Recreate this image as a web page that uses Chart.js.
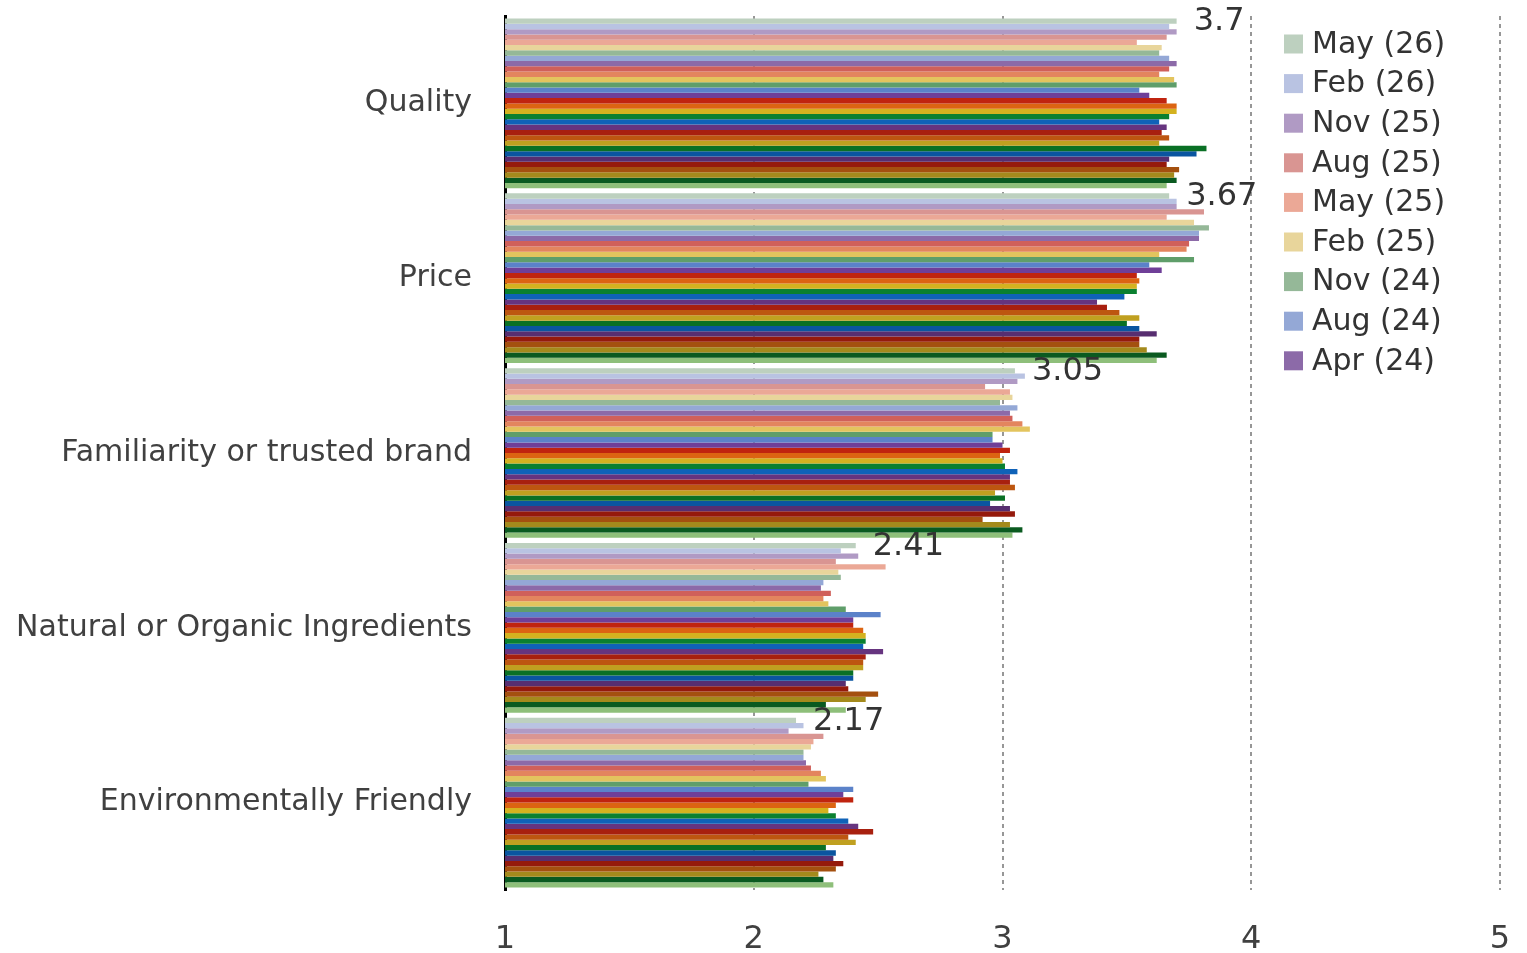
<!DOCTYPE html>
<html>
<head>
<meta charset="utf-8">
<script src="https://cdn.jsdelivr.net/npm/chart.js@4/dist/chart.umd.min.js"></script>
<style>
  html, body { margin: 0; padding: 0; background: #ffffff; }
  #wrap { width: 1527px; height: 953px; position: relative; }
</style>
</head>
<body>
<div id="wrap"><canvas id="chart" width="1527" height="953"></canvas></div>
<script>
// Purchase drivers, mean score (1-5), by survey wave (newest first)
const categories = [
  "Quality",
  "Price",
  "Familiarity or trusted brand",
  "Natural or Organic Ingredients",
  "Environmentally Friendly"
];

const waves = [
  "May (26)", "Feb (26)", "Nov (25)", "Aug (25)", "May (25)", "Feb (25)", "Nov (24)", "Aug (24)",
  "Apr (24)", "Jan (24)", "Oct (23)", "Jul (23)", "Apr (23)", "Jan (23)", "Oct (22)", "Jul (22)",
  "Apr (22)", "Jan (22)", "Oct (21)", "Jul (21)", "Apr (21)", "Jan (21)", "Oct (20)", "Jul (20)",
  "Apr (20)", "Jan (20)", "Oct (19)", "Jul (19)", "Apr (19)", "Jan (19)", "Oct (18)", "Jul (18)"
];

// One score per wave, in the same order as `waves`
const quality = [3.70, 3.67, 3.70, 3.66, 3.54, 3.64, 3.63, 3.67, 3.70, 3.67, 3.63, 3.69, 3.70, 3.55, 3.59, 3.66,
                 3.70, 3.70, 3.67, 3.63, 3.66, 3.64, 3.67, 3.63, 3.82, 3.78, 3.67, 3.66, 3.71, 3.69, 3.70, 3.66];
const price = [3.67, 3.70, 3.70, 3.81, 3.66, 3.77, 3.83, 3.79, 3.79, 3.75, 3.74, 3.63, 3.77, 3.59, 3.64, 3.54,
               3.55, 3.54, 3.54, 3.49, 3.38, 3.42, 3.47, 3.55, 3.50, 3.55, 3.62, 3.55, 3.55, 3.58, 3.66, 3.62];
const familiarity = [3.05, 3.09, 3.06, 2.93, 3.03, 3.04, 2.99, 3.06, 3.03, 3.04, 3.08, 3.11, 2.96, 2.96, 3.00, 3.03,
                     2.99, 3.00, 3.01, 3.06, 3.03, 3.03, 3.05, 2.97, 3.01, 2.95, 3.03, 3.05, 2.92, 3.03, 3.08, 3.04];
const natural = [2.41, 2.35, 2.42, 2.33, 2.53, 2.34, 2.35, 2.28, 2.27, 2.31, 2.28, 2.30, 2.37, 2.51, 2.40, 2.40,
                 2.44, 2.45, 2.45, 2.44, 2.52, 2.45, 2.44, 2.44, 2.40, 2.40, 2.37, 2.38, 2.50, 2.45, 2.29, 2.37];
const environment = [2.17, 2.20, 2.14, 2.28, 2.24, 2.23, 2.20, 2.20, 2.21, 2.23, 2.27, 2.29, 2.22, 2.40, 2.36, 2.40,
                     2.33, 2.30, 2.33, 2.38, 2.42, 2.48, 2.38, 2.41, 2.29, 2.33, 2.32, 2.36, 2.33, 2.26, 2.28, 2.32];

const xTickLabels = ["1", "2", "3", "4", "5"];

// Number of waves listed in the legend box
const legendCount = 9;

const waveColors = [
  "#bdd0bf", "#b9c3e2", "#b09ac4", "#d99592", "#eba896", "#e8d59b", "#95b898", "#94a8d6",
  "#8c6aa8", "#d0605a", "#e3855e", "#e3c45e", "#5f9e6a", "#5b82c9", "#6f3f98", "#c0240f",
  "#dc6412", "#d4b21f", "#0a8030", "#0f62b8", "#66347f", "#a8200f", "#bd5610", "#c0a020",
  "#0a7025", "#0a55a0", "#572e70", "#951a0c", "#a4500f", "#a48a1c", "#0a5a20", "#8ebf7a"
];

const byCategory = [quality, price, familiarity, natural, environment];

const datasets = waves.map((name, w) => ({
  label: name,
  data: byCategory.map(row => row[w]),
  backgroundColor: waveColors[w],
  borderWidth: 0,
  barPercentage: 1.0,
  categoryPercentage: 0.971
}));

const FONT = "'DejaVu Sans', Verdana, sans-serif";
const TEXT = "#404040";

// Value labels for the newest wave, placed just past each bar end
const newestLabels = {
  id: "newestLabels",
  afterDatasetsDraw(chart) {
    const ctx = chart.ctx;
    const meta = chart.getDatasetMeta(0);
    ctx.save();
    ctx.font = "32px " + FONT;
    ctx.fillStyle = "#333333";
    ctx.textAlign = "left";
    ctx.textBaseline = "middle";
    meta.data.forEach((bar, i) => {
      const v = chart.data.datasets[0].data[i];
      ctx.fillText(String(v), bar.x + 17, bar.y + 1);
    });
    ctx.restore();
  }
};

// Legend drawn inside the plot area on the right
const insideLegend = {
  id: "insideLegend",
  afterDraw(chart) {
    const ctx = chart.ctx;
    ctx.save();
    ctx.font = "30px " + FONT;
    ctx.textAlign = "left";
    ctx.textBaseline = "middle";
    for (let i = 0; i < legendCount; i++) {
      const cy = 44 + i * 39.6;
      ctx.fillStyle = chart.data.datasets[i].backgroundColor;
      ctx.fillRect(1284, cy - 9.5, 19, 19);
      ctx.fillStyle = "#333333";
      ctx.fillText(chart.data.datasets[i].label, 1312, cy + 1);
    }
    ctx.restore();
  }
};

new Chart(document.getElementById("chart"), {
  type: "bar",
  data: { labels: categories, datasets },
  options: {
    indexAxis: "y",
    responsive: false,
    animation: false,
    devicePixelRatio: 1,
    layout: { padding: { top: 16, right: 27, bottom: 0, left: 0 } },
    plugins: {
      legend: { display: false },
      tooltip: { enabled: false }
    },
    scales: {
      x: {
        type: "linear",
        min: 1,
        max: 5,
        z: 1,
        ticks: {
          stepSize: 1,
          padding: 30,
          color: TEXT,
          font: { family: FONT, size: 32 },
          callback: (value, index) => xTickLabels[index]
        },
        grid: {
          drawTicks: false,
          lineWidth: 2,
          color: c => (c.tick && c.tick.value === 1) ? "rgba(0,0,0,0)" : "rgba(125,125,125,0.8)"
        },
        border: { display: false, dash: [4, 4] },
        afterFit: s => { s.height = 63; s.paddingLeft = 0; s.paddingRight = 0; }
      },
      y: {
        type: "category",
        z: 1,
        ticks: {
          padding: 33,
          color: TEXT,
          font: { family: FONT, size: 30 }
        },
        grid: { display: false, drawTicks: false },
        border: { display: true, color: "#000000", width: 3 },
        afterFit: s => { s.width = 505; s.paddingTop = 0; s.paddingBottom = 0; }
      }
    }
  },
  plugins: [newestLabels, insideLegend]
});
</script>
</body>
</html>
